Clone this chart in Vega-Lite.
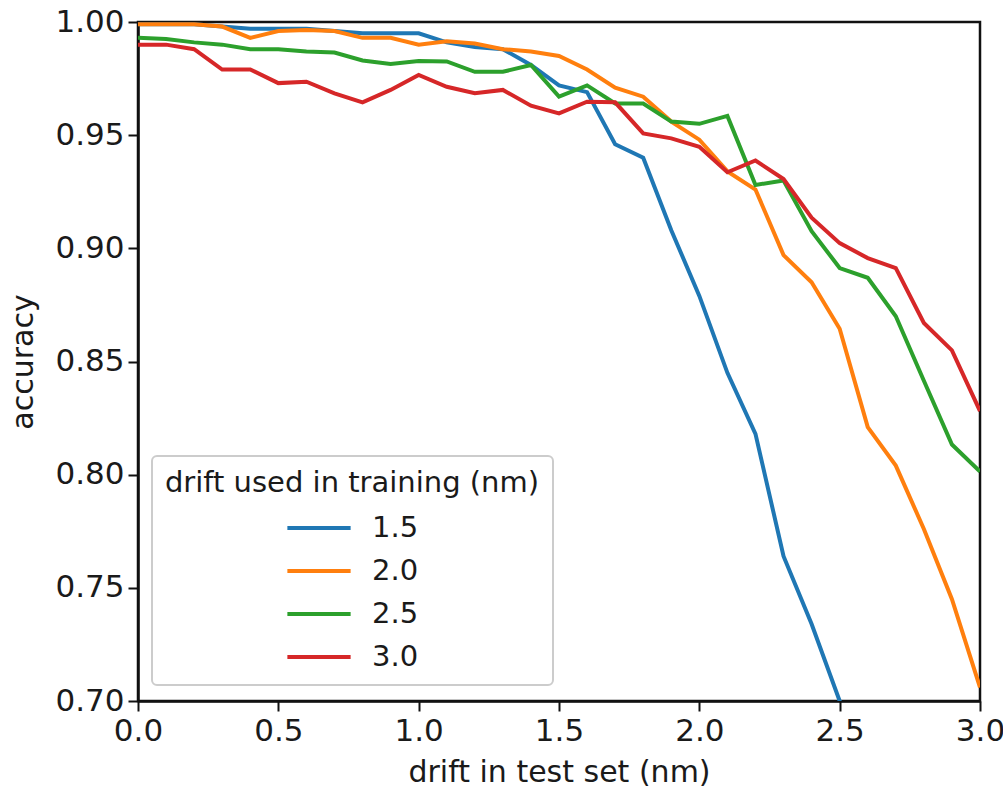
{
  "$schema": "https://vega.github.io/schema/vega-lite/v6.json",
  "width": 842,
  "height": 679,
  "autosize": {"type": "none"},
  "padding": {"left": 138, "top": 22, "right": 23, "bottom": 91},
  "background": "white",
  "config": {
    "font": "DejaVu Sans",
    "view": {"stroke": "#111", "strokeWidth": 2.5},
    "legend": {"strokeWidth": 2},
    "axis": {
      "grid": false,
      "domainColor": "#111",
      "domainWidth": 2.5,
      "tickColor": "#111",
      "tickWidth": 2,
      "tickSize": 10,
      "labelFont": "DejaVu Sans",
      "labelFontSize": 31,
      "labelColor": "#1a1a1a",
      "titleFont": "DejaVu Sans",
      "titleFontSize": 30,
      "titleFontWeight": "normal",
      "titleColor": "#1a1a1a"
    }
  },
  "data": {
    "values": [
      {"drift": 0.0, "accuracy": 0.999, "training": "1.5"},
      {"drift": 0.1, "accuracy": 0.999, "training": "1.5"},
      {"drift": 0.2, "accuracy": 0.999, "training": "1.5"},
      {"drift": 0.3, "accuracy": 0.998, "training": "1.5"},
      {"drift": 0.4, "accuracy": 0.997, "training": "1.5"},
      {"drift": 0.5, "accuracy": 0.997, "training": "1.5"},
      {"drift": 0.6, "accuracy": 0.997, "training": "1.5"},
      {"drift": 0.7, "accuracy": 0.996, "training": "1.5"},
      {"drift": 0.8, "accuracy": 0.995, "training": "1.5"},
      {"drift": 0.9, "accuracy": 0.995, "training": "1.5"},
      {"drift": 1.0, "accuracy": 0.995, "training": "1.5"},
      {"drift": 1.1, "accuracy": 0.991, "training": "1.5"},
      {"drift": 1.2, "accuracy": 0.989, "training": "1.5"},
      {"drift": 1.3, "accuracy": 0.988, "training": "1.5"},
      {"drift": 1.4, "accuracy": 0.981, "training": "1.5"},
      {"drift": 1.5, "accuracy": 0.972, "training": "1.5"},
      {"drift": 1.6, "accuracy": 0.969, "training": "1.5"},
      {"drift": 1.7, "accuracy": 0.946, "training": "1.5"},
      {"drift": 1.8, "accuracy": 0.940, "training": "1.5"},
      {"drift": 1.9, "accuracy": 0.908, "training": "1.5"},
      {"drift": 2.0, "accuracy": 0.879, "training": "1.5"},
      {"drift": 2.1, "accuracy": 0.845, "training": "1.5"},
      {"drift": 2.2, "accuracy": 0.818, "training": "1.5"},
      {"drift": 2.3, "accuracy": 0.764, "training": "1.5"},
      {"drift": 2.4, "accuracy": 0.734, "training": "1.5"},
      {"drift": 2.5, "accuracy": 0.700, "training": "1.5"},
      {"drift": 2.6, "accuracy": 0.665, "training": "1.5"},
      {"drift": 2.7, "accuracy": 0.635, "training": "1.5"},
      {"drift": 2.8, "accuracy": 0.605, "training": "1.5"},
      {"drift": 2.9, "accuracy": 0.575, "training": "1.5"},
      {"drift": 3.0, "accuracy": 0.545, "training": "1.5"},
      {"drift": 0.0, "accuracy": 0.999, "training": "2.0"},
      {"drift": 0.1, "accuracy": 0.999, "training": "2.0"},
      {"drift": 0.2, "accuracy": 0.999, "training": "2.0"},
      {"drift": 0.3, "accuracy": 0.998, "training": "2.0"},
      {"drift": 0.4, "accuracy": 0.993, "training": "2.0"},
      {"drift": 0.5, "accuracy": 0.996, "training": "2.0"},
      {"drift": 0.6, "accuracy": 0.9965, "training": "2.0"},
      {"drift": 0.7, "accuracy": 0.996, "training": "2.0"},
      {"drift": 0.8, "accuracy": 0.993, "training": "2.0"},
      {"drift": 0.9, "accuracy": 0.993, "training": "2.0"},
      {"drift": 1.0, "accuracy": 0.990, "training": "2.0"},
      {"drift": 1.1, "accuracy": 0.9915, "training": "2.0"},
      {"drift": 1.2, "accuracy": 0.9905, "training": "2.0"},
      {"drift": 1.3, "accuracy": 0.988, "training": "2.0"},
      {"drift": 1.4, "accuracy": 0.987, "training": "2.0"},
      {"drift": 1.5, "accuracy": 0.985, "training": "2.0"},
      {"drift": 1.6, "accuracy": 0.979, "training": "2.0"},
      {"drift": 1.7, "accuracy": 0.971, "training": "2.0"},
      {"drift": 1.8, "accuracy": 0.967, "training": "2.0"},
      {"drift": 1.9, "accuracy": 0.956, "training": "2.0"},
      {"drift": 2.0, "accuracy": 0.948, "training": "2.0"},
      {"drift": 2.1, "accuracy": 0.934, "training": "2.0"},
      {"drift": 2.2, "accuracy": 0.926, "training": "2.0"},
      {"drift": 2.3, "accuracy": 0.897, "training": "2.0"},
      {"drift": 2.4, "accuracy": 0.885, "training": "2.0"},
      {"drift": 2.5, "accuracy": 0.8645, "training": "2.0"},
      {"drift": 2.6, "accuracy": 0.821, "training": "2.0"},
      {"drift": 2.7, "accuracy": 0.804, "training": "2.0"},
      {"drift": 2.8, "accuracy": 0.776, "training": "2.0"},
      {"drift": 2.9, "accuracy": 0.745, "training": "2.0"},
      {"drift": 3.0, "accuracy": 0.706, "training": "2.0"},
      {"drift": 0.0, "accuracy": 0.993, "training": "2.5"},
      {"drift": 0.1, "accuracy": 0.9925, "training": "2.5"},
      {"drift": 0.2, "accuracy": 0.991, "training": "2.5"},
      {"drift": 0.3, "accuracy": 0.990, "training": "2.5"},
      {"drift": 0.4, "accuracy": 0.988, "training": "2.5"},
      {"drift": 0.5, "accuracy": 0.988, "training": "2.5"},
      {"drift": 0.6, "accuracy": 0.987, "training": "2.5"},
      {"drift": 0.7, "accuracy": 0.9865, "training": "2.5"},
      {"drift": 0.8, "accuracy": 0.983, "training": "2.5"},
      {"drift": 0.9, "accuracy": 0.9815, "training": "2.5"},
      {"drift": 1.0, "accuracy": 0.9828, "training": "2.5"},
      {"drift": 1.1, "accuracy": 0.9826, "training": "2.5"},
      {"drift": 1.2, "accuracy": 0.978, "training": "2.5"},
      {"drift": 1.3, "accuracy": 0.978, "training": "2.5"},
      {"drift": 1.4, "accuracy": 0.981, "training": "2.5"},
      {"drift": 1.5, "accuracy": 0.967, "training": "2.5"},
      {"drift": 1.6, "accuracy": 0.972, "training": "2.5"},
      {"drift": 1.7, "accuracy": 0.964, "training": "2.5"},
      {"drift": 1.8, "accuracy": 0.964, "training": "2.5"},
      {"drift": 1.9, "accuracy": 0.956, "training": "2.5"},
      {"drift": 2.0, "accuracy": 0.955, "training": "2.5"},
      {"drift": 2.1, "accuracy": 0.9585, "training": "2.5"},
      {"drift": 2.2, "accuracy": 0.928, "training": "2.5"},
      {"drift": 2.3, "accuracy": 0.930, "training": "2.5"},
      {"drift": 2.4, "accuracy": 0.9076, "training": "2.5"},
      {"drift": 2.5, "accuracy": 0.8913, "training": "2.5"},
      {"drift": 2.6, "accuracy": 0.887, "training": "2.5"},
      {"drift": 2.7, "accuracy": 0.870, "training": "2.5"},
      {"drift": 2.8, "accuracy": 0.8415, "training": "2.5"},
      {"drift": 2.9, "accuracy": 0.8133, "training": "2.5"},
      {"drift": 3.0, "accuracy": 0.8014, "training": "2.5"},
      {"drift": 0.0, "accuracy": 0.990, "training": "3.0"},
      {"drift": 0.1, "accuracy": 0.990, "training": "3.0"},
      {"drift": 0.2, "accuracy": 0.988, "training": "3.0"},
      {"drift": 0.3, "accuracy": 0.979, "training": "3.0"},
      {"drift": 0.4, "accuracy": 0.979, "training": "3.0"},
      {"drift": 0.5, "accuracy": 0.973, "training": "3.0"},
      {"drift": 0.6, "accuracy": 0.9736, "training": "3.0"},
      {"drift": 0.7, "accuracy": 0.9685, "training": "3.0"},
      {"drift": 0.8, "accuracy": 0.9645, "training": "3.0"},
      {"drift": 0.9, "accuracy": 0.970, "training": "3.0"},
      {"drift": 1.0, "accuracy": 0.9766, "training": "3.0"},
      {"drift": 1.1, "accuracy": 0.9714, "training": "3.0"},
      {"drift": 1.2, "accuracy": 0.9685, "training": "3.0"},
      {"drift": 1.3, "accuracy": 0.970, "training": "3.0"},
      {"drift": 1.4, "accuracy": 0.963, "training": "3.0"},
      {"drift": 1.5, "accuracy": 0.9596, "training": "3.0"},
      {"drift": 1.6, "accuracy": 0.9648, "training": "3.0"},
      {"drift": 1.7, "accuracy": 0.9645, "training": "3.0"},
      {"drift": 1.8, "accuracy": 0.9508, "training": "3.0"},
      {"drift": 1.9, "accuracy": 0.9486, "training": "3.0"},
      {"drift": 2.0, "accuracy": 0.9449, "training": "3.0"},
      {"drift": 2.1, "accuracy": 0.9336, "training": "3.0"},
      {"drift": 2.2, "accuracy": 0.9388, "training": "3.0"},
      {"drift": 2.3, "accuracy": 0.9306, "training": "3.0"},
      {"drift": 2.4, "accuracy": 0.9135, "training": "3.0"},
      {"drift": 2.5, "accuracy": 0.9023, "training": "3.0"},
      {"drift": 2.6, "accuracy": 0.8957, "training": "3.0"},
      {"drift": 2.7, "accuracy": 0.8913, "training": "3.0"},
      {"drift": 2.8, "accuracy": 0.867, "training": "3.0"},
      {"drift": 2.9, "accuracy": 0.8549, "training": "3.0"},
      {"drift": 3.0, "accuracy": 0.8281, "training": "3.0"}
    ]
  },
  "mark": {"type": "line", "clip": true, "strokeWidth": 4},
  "encoding": {
    "x": {
      "field": "drift",
      "type": "quantitative",
      "scale": {"domain": [0, 3], "nice": false, "zero": false},
      "axis": {
        "title": "drift in test set (nm)",
        "values": [0, 0.5, 1, 1.5, 2, 2.5, 3],
        "format": ".1f",
        "labelPadding": 5,
        "titlePadding": 11,
        "labelFlush": false
      }
    },
    "y": {
      "field": "accuracy",
      "type": "quantitative",
      "scale": {"domain": [0.7, 1.0], "nice": false, "zero": false},
      "axis": {
        "title": "accuracy",
        "values": [0.7, 0.75, 0.8, 0.85, 0.9, 0.95, 1.0],
        "format": ".2f",
        "labelPadding": 4,
        "titlePadding": 16
      }
    },
    "color": {
      "field": "training",
      "type": "nominal",
      "scale": {
        "domain": ["1.5", "2.0", "2.5", "3.0"],
        "range": ["#1f77b4", "#ff7f0e", "#2ca02c", "#d62728"]
      },
      "legend": {
        "title": "drift used in training (nm)",
        "orient": "none",
        "legendX": 14,
        "legendY": 434,
        "padding": 13,
        "fillColor": "white",
        "strokeColor": "#cccccc",
        "cornerRadius": 5,
        "titleFont": "DejaVu Sans",
        "titleFontSize": 29,
        "titleFontWeight": "normal",
        "titleColor": "#1a1a1a",
        "titleAnchor": "middle",
        "titleLimit": 600,
        "titlePadding": 12,
        "labelFont": "DejaVu Sans",
        "labelFontSize": 29,
        "labelColor": "#1a1a1a",
        "labelOffset": 35,
        "symbolType": "M-2,0H2",
        "symbolSize": 1000,
        "symbolStrokeWidth": 4,
        "symbolOffset": 16,
        "rowPadding": 10
      }
    }
  }
}
